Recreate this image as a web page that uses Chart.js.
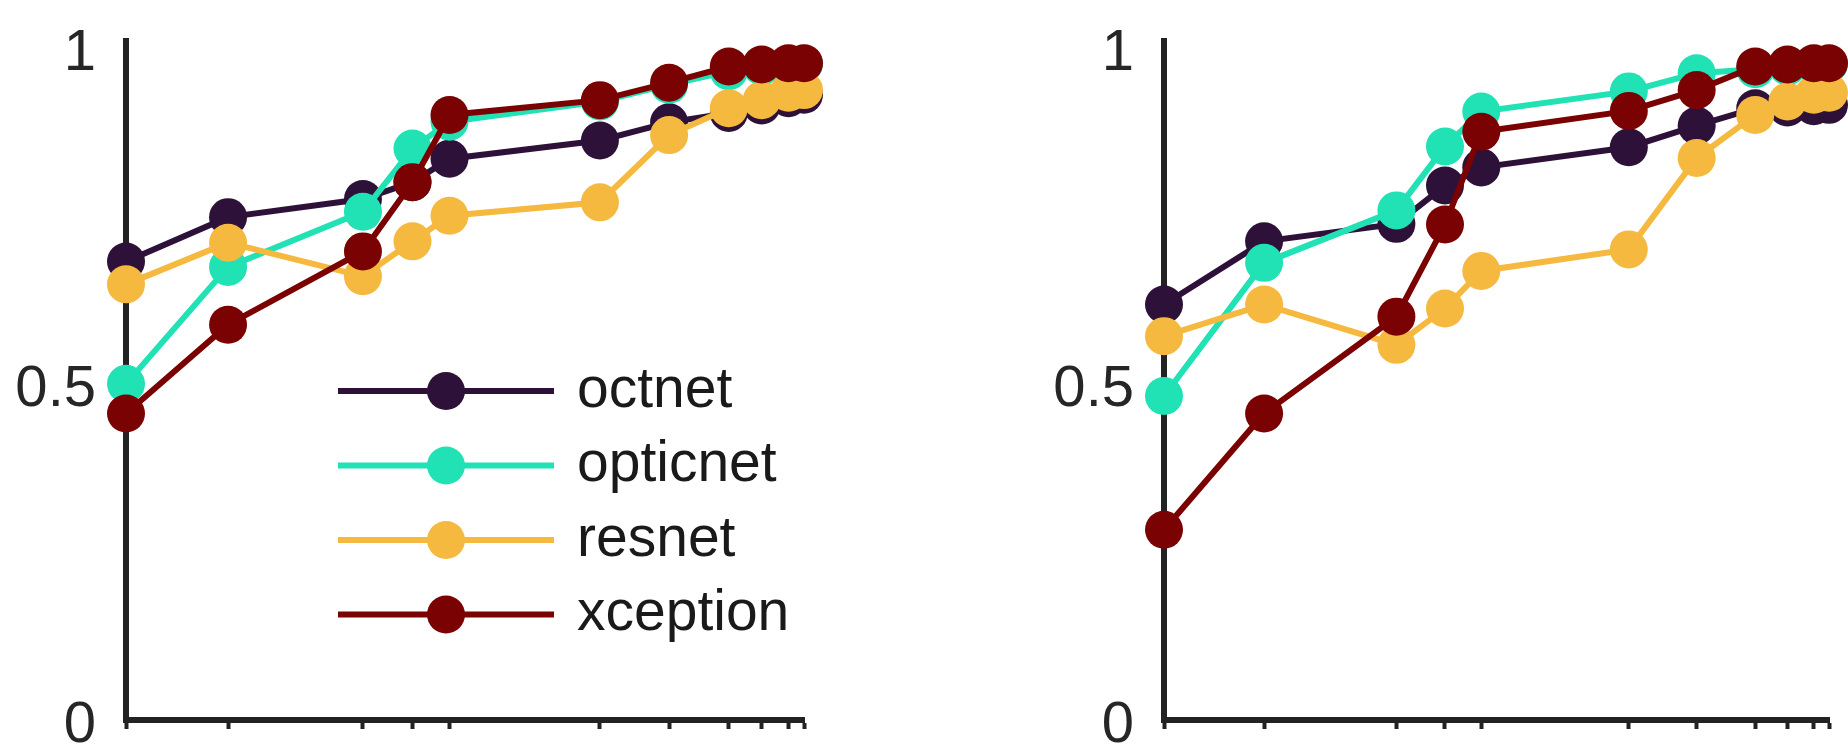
<!DOCTYPE html>
<html>
<head>
<meta charset="utf-8">
<script src="https://cdn.jsdelivr.net/npm/chart.js@4.4.1/dist/chart.umd.min.js"></script>
<style>
	html, body { margin: 0; padding: 0; background: #fff; overflow: hidden; }
	.panel { position: absolute; top: 0; width: 924px; height: 751px; }
	#left { left: 0; }
	#right { left: 924px; }
</style>
</head>
<body>
<div class="panel" id="left"><canvas id="chartA" width="924" height="751"></canvas></div>
<div class="panel" id="right"><canvas id="chartB" width="924" height="751"></canvas></div>
<script>
	// x positions (log spaced in the figure)
	var xs = [1, 2, 5, 7, 9, 25, 40, 60, 75, 90, 100];
	var yTicks = [0, 0.5, 1];
	var names = ['octnet', 'opticnet', 'resnet', 'xception'];
	var colors = ['#2e1139', '#20e2b4', '#f5b93f', '#7b0202'];

	// left panel
	var octnetA   = [0.682, 0.748, 0.775, 0.800, 0.835, 0.862, 0.889, 0.903, 0.914, 0.925, 0.930];
	var opticnetA = [0.500, 0.674, 0.756, 0.850, 0.890, 0.920, 0.945, 0.965, 0.972, 0.975, 0.976];
	var resnetA   = [0.648, 0.710, 0.660, 0.712, 0.750, 0.770, 0.870, 0.910, 0.922, 0.933, 0.937];
	var xceptionA = [0.456, 0.588, 0.697, 0.800, 0.900, 0.922, 0.948, 0.972, 0.975, 0.977, 0.977];

	// right panel
	var octnetB   = [0.618, 0.712, 0.738, 0.795, 0.822, 0.852, 0.884, 0.910, 0.911, 0.913, 0.915];
	var opticnetB = [0.482, 0.680, 0.758, 0.853, 0.905, 0.935, 0.962, 0.968, 0.972, 0.975, 0.976];
	var resnetB   = [0.571, 0.618, 0.558, 0.612, 0.668, 0.700, 0.836, 0.900, 0.920, 0.930, 0.933];
	var xceptionB = [0.283, 0.456, 0.600, 0.737, 0.875, 0.906, 0.937, 0.972, 0.975, 0.977, 0.977];

	var fontFam = '"Liberation Sans", Arial, sans-serif';

	// legend drawn inside the plot, like the original figure
	var insideLegend = {
		id: 'insideLegend',
		afterDatasetsDraw: function(chart, args, opts) {
			if (!opts.show) return;
			var ctx = chart.ctx;
			ctx.save();
			chart.data.datasets.forEach(function(ds, i) {
				var y = opts.top + i * opts.gap;
				ctx.strokeStyle = ds.borderColor;
				ctx.lineWidth = 6;
				ctx.beginPath();
				ctx.moveTo(opts.x1, y);
				ctx.lineTo(opts.x2, y);
				ctx.stroke();
				ctx.fillStyle = ds.borderColor;
				ctx.beginPath();
				ctx.arc((opts.x1 + opts.x2) / 2, y, 19, 0, Math.PI * 2);
				ctx.fill();
				ctx.fillStyle = '#1a1a1a';
				ctx.font = '57px ' + fontFam;
				ctx.textBaseline = 'middle';
				ctx.fillText(ds.label, opts.textX, y);
			});
			ctx.restore();
		}
	};

	// keep the tick labels from pushing the plot area around
	function noPad(scale) {
		scale.paddingTop = 0;
		scale.paddingBottom = 0;
		scale.paddingLeft = 0;
		scale.paddingRight = 0;
	}

	function makeChart(id, series, axisW, padRight, showLegend) {
		var datasets = series.map(function(vals, i) {
			return {
				label: names[i],
				data: xs.map(function(x, j) { return {x: x, y: vals[j]}; }),
				borderColor: colors[i],
				backgroundColor: colors[i],
				borderWidth: 6,
				pointRadius: 19,
				pointBorderWidth: 0,
				pointBackgroundColor: colors[i],
				order: 4 - i,
				clip: false
			};
		});

		return new Chart(document.getElementById(id), {
			type: 'line',
			data: { datasets: datasets },
			options: {
				responsive: false,
				animation: false,
				events: [],
				layout: { padding: { top: 41, right: padRight, left: 0, bottom: 0 } },
				scales: {
					x: {
						type: 'logarithmic',
						min: 1,
						max: 100,
						afterBuildTicks: function(scale) {
							scale.ticks = xs.map(function(v) { return {value: v}; });
						},
						afterFit: function(scale) { scale.height = 31; noPad(scale); },
						ticks: { display: false },
						grid: { display: true, drawOnChartArea: false, drawTicks: true, tickLength: 9, tickWidth: 4, color: '#222' },
						border: { display: true, width: 6, color: '#222' }
					},
					y: {
						min: 0,
						max: 1.01,
						afterBuildTicks: function(scale) {
							scale.ticks = yTicks.map(function(v) { return {value: v}; });
						},
						afterFit: function(scale) { scale.width = axisW; noPad(scale); },
						ticks: {
							padding: 30,
							labelOffset: 6,
							color: '#262626',
							font: { family: fontFam, size: 58 },
							callback: function(v) { return String(v); }
						},
						grid: { display: false, drawTicks: false },
						border: { display: true, width: 6, color: '#222' }
					}
				},
				plugins: {
					legend: { display: false },
					tooltip: { enabled: false },
					insideLegend: { show: showLegend, top: 391, gap: 74.5, x1: 338, x2: 554, textX: 577 }
				}
			},
			plugins: [insideLegend]
		});
	}

	makeChart('chartA', [octnetA, opticnetA, resnetA, xceptionA], 126, 120, true);
	makeChart('chartB', [octnetB, opticnetB, resnetB, xceptionB], 240, 4, false);
</script>
</body>
</html>
